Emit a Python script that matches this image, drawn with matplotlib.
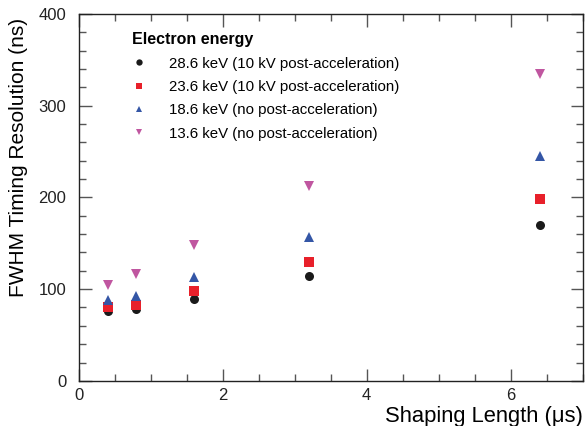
import matplotlib
matplotlib.use("Agg")
import matplotlib.pyplot as plt
from matplotlib.ticker import MultipleLocator

plt.rcParams['font.family'] = ['Liberation Sans', 'DejaVu Sans']

shaping = [0.4, 0.8, 1.6, 3.2, 6.4]
fwhm_286 = [76, 78, 89, 114, 170]
fwhm_236 = [80, 83, 98, 130, 198]
fwhm_186 = [88, 93, 113, 157, 245]
fwhm_136 = [104, 116, 148, 213, 335]

labels = ['28.6 keV (10 kV post-acceleration)',
          '23.6 keV (10 kV post-acceleration)',
          '18.6 keV (no post-acceleration)',
          '13.6 keV (no post-acceleration)']
series = [fwhm_286, fwhm_236, fwhm_186, fwhm_136]
colors = ['#1a1a1a', '#e8202a', '#3456a6', '#c056a0']
markers = ['o', 's', '^', 'v']

fig = plt.figure(figsize=(5.88, 4.26), dpi=100)
ax = fig.add_axes([0.134, 0.106, 0.857, 0.861])

for vals, col, mk, lab in zip(series, colors, markers, labels):
    ax.plot(shaping, vals, linestyle='none', marker=mk, color=col,
            markersize=6.5, markeredgewidth=0, label=lab)

ax.set_xlim(0, 7)
ax.set_ylim(0, 400)
ax.xaxis.set_major_locator(MultipleLocator(2))
ax.xaxis.set_minor_locator(MultipleLocator(0.5))
ax.yaxis.set_major_locator(MultipleLocator(100))
ax.yaxis.set_minor_locator(MultipleLocator(20))
ax.tick_params(which='both', direction='in', top=True, right=True,
               color='#555555', labelsize=12, labelcolor='#222222')
ax.tick_params(axis='x', which='both', pad=5)
ax.tick_params(axis='y', which='both', pad=9)
ax.tick_params(which='major', length=9, width=1)
ax.tick_params(which='minor', length=5, width=1)
for sp in ax.spines.values():
    sp.set_linewidth(1)
    sp.set_color('#222222')

ax.set_xlabel('Shaping Length (\u03bcs)', fontsize=15.8, loc='right')
ax.xaxis.set_label_coords(1.0, -0.068)
ax.xaxis.label.set_verticalalignment('top')
ax.set_ylabel('FWHM Timing Resolution (ns)', fontsize=15, loc='top')
ax.yaxis.set_label_coords(-0.101, 0.99)

leg = ax.legend(loc='upper left', bbox_to_anchor=(0.078, 0.987), frameon=False,
                title='Electron energy', alignment='left', fontsize=10.8,
                title_fontproperties={'weight': 'bold', 'size': 11.5},
                markerscale=0.7, handletextpad=1.5, labelspacing=0.62,
                handlelength=1.0)

fig.savefig('out.png', dpi=100)
